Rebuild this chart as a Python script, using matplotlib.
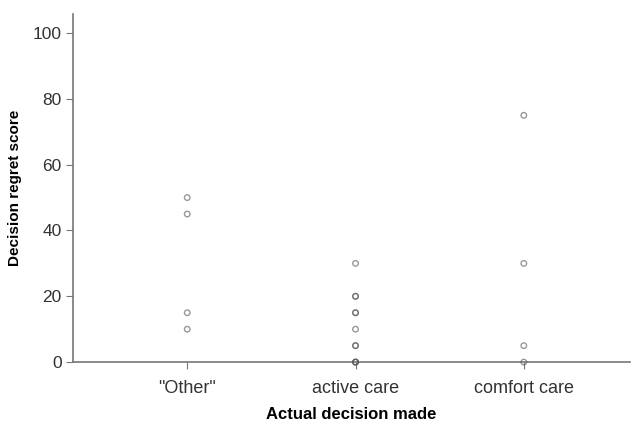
import matplotlib.pyplot as plt

# Decision regret score by actual decision made
categories = ['"Other"', 'active care', 'comfort care']
other_scores = [50, 45, 15, 10]
active_scores = [30, 20, 20, 15, 15, 10, 5, 5, 0, 0, 0]
comfort_scores = [75, 30, 5, 0]

plt.rcParams['font.family'] = ['Liberation Sans', 'DejaVu Sans']

fig = plt.figure(figsize=(6.33, 4.24), dpi=100)
ax = fig.add_axes([0.115, 0.146, 0.88, 0.821])

groups = [other_scores, active_scores, comfort_scores]
for i, scores in enumerate(groups):
    ax.scatter([i + 1] * len(scores), scores, s=16, facecolors='none',
               edgecolors='#555555', linewidths=1.0, alpha=0.6, zorder=3,
               clip_on=False)

ax.set_xlim(0.32, 3.63)
ax.set_ylim(0, 105.8)
ax.set_xticks([1, 2, 3])
ax.set_xticklabels(categories, fontsize=13, color='#333333')
ax.set_yticks([0, 20, 40, 60, 80, 100])
ax.tick_params(axis='y', labelsize=12.5, labelcolor='#333333', length=5,
               color='#777777', direction='out', pad=3)
ax.tick_params(axis='x', length=5, color='#777777', direction='out', pad=8)

for side in ['top', 'right']:
    ax.spines[side].set_visible(False)
for side in ['left', 'bottom']:
    ax.spines[side].set_color('#777777')
    ax.spines[side].set_linewidth(1.2)

ax.set_xlabel('Actual decision made', fontsize=12, fontweight='bold', labelpad=7)
ax.set_ylabel('Decision regret score', fontsize=11, fontweight='bold', labelpad=8)

fig.savefig('out.png', dpi=100)
